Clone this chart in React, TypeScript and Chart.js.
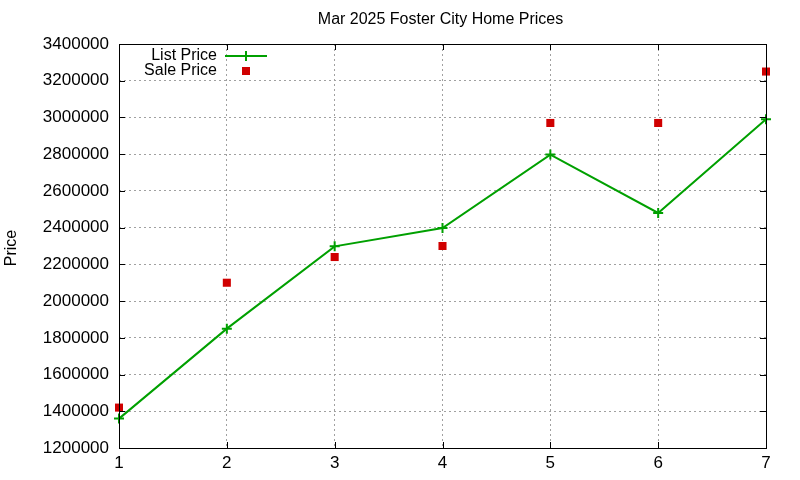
import { useEffect, useRef } from 'react';
import { Chart, registerables } from 'chart.js';

Chart.register(...registerables);

const days = [1, 2, 3, 4, 5, 6, 7];
const listPrices = [1360000, 1850000, 2298000, 2398000, 2798000, 2480000, 2990000];
const salePrices = [1420000, 2100000, 2240000, 2300000, 2970000, 2970000, 3250000];
const yTicks = [1200000, 1400000, 1600000, 1800000, 2000000, 2200000, 2400000, 2600000, 2800000, 3000000, 3200000, 3400000];

const FONT = '"Liberation Sans", Arial, sans-serif';
const GREEN = '#00a000';
const RED = '#d00000';

// gnuplot-like frame, mirrored ticks, title, y label and legend
const decorations = {
  id: 'decorations',
  afterDraw(chart: Chart) {
    const { ctx, chartArea: a, scales } = chart;
    ctx.save();
    ctx.strokeStyle = '#000';
    ctx.lineWidth = 1;
    ctx.strokeRect(a.left + 0.5, a.top + 0.5, a.right - a.left, a.bottom - a.top);
    ctx.beginPath();
    for (const v of yTicks) {
      const y = Math.round(scales.y.getPixelForValue(v)) + 0.5;
      ctx.moveTo(a.left, y); ctx.lineTo(a.left + 6, y);
      ctx.moveTo(a.right, y); ctx.lineTo(a.right - 6, y);
    }
    for (const d of days) {
      const x = Math.round(scales.x.getPixelForValue(d)) + 0.5;
      ctx.moveTo(x, a.bottom); ctx.lineTo(x, a.bottom - 6);
      ctx.moveTo(x, a.top); ctx.lineTo(x, a.top + 6);
    }
    ctx.stroke();

    ctx.fillStyle = '#000';
    ctx.font = `16px ${FONT}`;
    ctx.textAlign = 'center';
    ctx.textBaseline = 'middle';
    ctx.fillText('Mar 2025 Foster City Home Prices', (a.left + a.right) / 2 - 2, 20);

    ctx.save();
    ctx.translate(12, (a.top + a.bottom) / 2 + 2);
    ctx.rotate(-Math.PI / 2);
    ctx.fillText('Price', 0, 0);
    ctx.restore();

    ctx.textAlign = 'right';
    ctx.fillText('List Price', 217, 56);
    ctx.fillText('Sale Price', 217, 71);
    ctx.strokeStyle = GREEN;
    ctx.lineWidth = 2;
    ctx.beginPath();
    ctx.moveTo(225, 56); ctx.lineTo(267, 56);
    ctx.moveTo(246, 51); ctx.lineTo(246, 61);
    ctx.stroke();
    ctx.fillStyle = RED;
    ctx.fillRect(242, 67, 8, 8);
    ctx.restore();
  },
};

export default function App() {
  const canvasRef = useRef<HTMLCanvasElement>(null);
  const chartRef = useRef<Chart | null>(null);

  useEffect(() => {
    document.body.style.margin = '0';
    if (!canvasRef.current) return;
    if (chartRef.current) chartRef.current.destroy();

    chartRef.current = new Chart(canvasRef.current, {
      type: 'line',
      data: {
        datasets: [
          {
            label: 'List Price',
            data: days.map((d, i) => ({ x: d, y: listPrices[i] })),
            borderColor: GREEN,
            backgroundColor: GREEN,
            borderWidth: 2,
            pointStyle: 'cross',
            pointRadius: 5,
            pointBorderWidth: 2,
            tension: 0,
            clip: false,
          },
          {
            label: 'Sale Price',
            data: days.map((d, i) => ({ x: d, y: salePrices[i] })),
            showLine: false,
            borderColor: RED,
            backgroundColor: RED,
            pointStyle: 'rect',
            pointRadius: 5.7,
            pointBorderWidth: 0,
            clip: false,
          },
        ],
      },
      options: {
        responsive: false,
        animation: false,
        events: [],
        layout: { padding: { top: 44, right: 34, left: 0, bottom: 0 } },
        plugins: {
          legend: { display: false },
          title: { display: false },
          tooltip: { enabled: false },
        },
        scales: {
          x: {
            type: 'linear',
            min: 1,
            max: 7,
            afterFit: (s: any) => { s.height = 32; },
            grid: { color: '#a0a0a0', drawTicks: false },
            border: { display: false, dash: [2, 3] },
            ticks: {
              stepSize: 1,
              padding: 5,
              color: '#000',
              font: { family: FONT, size: 17 },
            },
          },
          y: {
            min: 1200000,
            max: 3400000,
            afterFit: (s: any) => { s.width = 119; },
            afterBuildTicks: (s: any) => { s.ticks = yTicks.map((v) => ({ value: v })); },
            grid: { color: '#a0a0a0', drawTicks: false },
            border: { display: false, dash: [2, 3] },
            ticks: {
              padding: 10,
              color: '#000',
              font: { family: FONT, size: 17 },
              callback: (v: any) => String(v),
            },
          },
        },
      },
      plugins: [decorations],
    });

    return () => {
      if (chartRef.current) {
        chartRef.current.destroy();
        chartRef.current = null;
      }
    };
  }, []);

  return <canvas ref={canvasRef} width={800} height={480} style={{ display: 'block' }} />;
}
